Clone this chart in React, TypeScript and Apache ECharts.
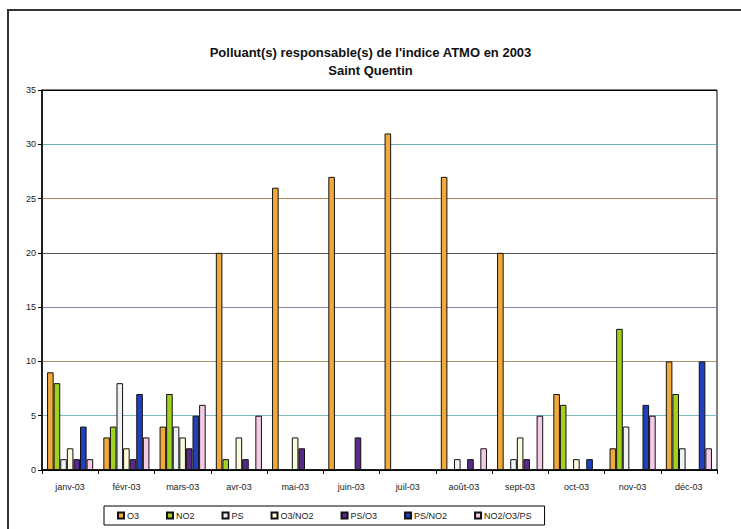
import React, { useEffect, useRef } from "react";
import * as echarts from "echarts";

const months = ["janv-03", "févr-03", "mars-03", "avr-03", "mai-03", "juin-03", "juil-03", "août-03", "sept-03", "oct-03", "nov-03", "déc-03"];
const seriesNames = ["O3", "NO2", "PS", "O3/NO2", "PS/O3", "PS/NO2", "NO2/O3/PS"];
const o3 = [9, 3, 4, 20, 26, 27, 31, 27, 20, 7, 2, 10];
const no2 = [8, 4, 7, 1, 0, 0, 0, 0, 0, 6, 13, 7];
const ps = [1, 8, 4, 0, 0, 0, 0, 1, 1, 0, 4, 2];
const o3no2 = [2, 2, 3, 3, 3, 0, 0, 0, 3, 1, 0, 0];
const pso3 = [1, 1, 2, 1, 2, 3, 0, 1, 1, 0, 0, 0];
const psno2 = [4, 7, 5, 0, 0, 0, 0, 0, 0, 1, 6, 10];
const no2o3ps = [1, 3, 6, 5, 0, 0, 0, 2, 5, 0, 5, 2];
const seriesValues = [o3, no2, ps, o3no2, pso3, psno2, no2o3ps];
const colors = ["#f2a93b", "#9fd11e", "#eef2f4", "#fbfbdc", "#5a2a88", "#2040c0", "#f6cbe8"];
const yTicks = [0, 5, 10, 15, 20, 25, 30, 35];
const gridColors = ["#000000", "#7fbcc6", "#a5916c", "#8c86a8", "#555555", "#b48466", "#6eaab6", "#000000"];

export default function App() {
  const ref = useRef<HTMLDivElement>(null);
  useEffect(() => {
    if (!ref.current) return;
    const chart = echarts.init(ref.current, null, { renderer: "svg" });
    const font = "Liberation Sans";
    chart.setOption({
      animation: false,
      backgroundColor: "#ffffff",
      textStyle: { fontFamily: font },
      title: {
        text: "Polluant(s) responsable(s) de l'indice ATMO en 2003\nSaint Quentin",
        left: "center",
        top: 38,
        textStyle: { fontFamily: font, fontSize: 13, fontWeight: "bold", color: "#111", lineHeight: 18 },
      },
      graphic: [
        {
          type: "rect",
          shape: { x: 8, y: 10, width: 800, height: 600 },
          style: { fill: "none", stroke: "#333", lineWidth: 2 },
          silent: true,
        },
      ],
      legend: {
        data: seriesNames,
        left: 104,
        top: 506,
        itemWidth: 6,
        itemHeight: 6,
        itemGap: 27,
        padding: [5, 13],
        borderColor: "#000",
        borderWidth: 1,
        icon: "rect",
        textStyle: { fontFamily: font, fontSize: 9, color: "#222", padding: [0, 0, 0, -2] },
      },
      grid: {
        left: 42,
        right: 24,
        top: 90,
        bottom: 59,
        show: true,
        borderColor: "#000",
        borderWidth: 1,
        containLabel: false,
      },
      xAxis: {
        type: "category",
        data: months,
        axisLine: { lineStyle: { color: "#000", width: 1.5 } },
        axisTick: { show: true, length: 4, lineStyle: { color: "#000" } },
        axisLabel: { fontFamily: font, fontSize: 9, color: "#222", margin: 12, interval: 0 },
      },
      yAxis: {
        type: "value",
        min: yTicks[0],
        max: yTicks[yTicks.length - 1],
        interval: 5,
        axisLine: { show: true, lineStyle: { color: "#000", width: 1.5 } },
        axisTick: { show: true, length: 4, lineStyle: { color: "#000" } },
        axisLabel: { fontFamily: font, fontSize: 9, color: "#222", margin: 6 },
        splitLine: { show: true, lineStyle: { color: gridColors, width: 1.2 } },
      },
      series: seriesNames.map((name, i) => ({
        name,
        type: "bar",
        data: seriesValues[i],
        barGap: "0%",
        barCategoryGap: "18%",
        itemStyle: { color: colors[i], borderColor: "#111", borderWidth: 1 },
      })),
    });
    return () => chart.dispose();
  }, []);
  return <div ref={ref} style={{ position: "fixed", left: 0, top: 0, width: 741, height: 529 }} />;
}
